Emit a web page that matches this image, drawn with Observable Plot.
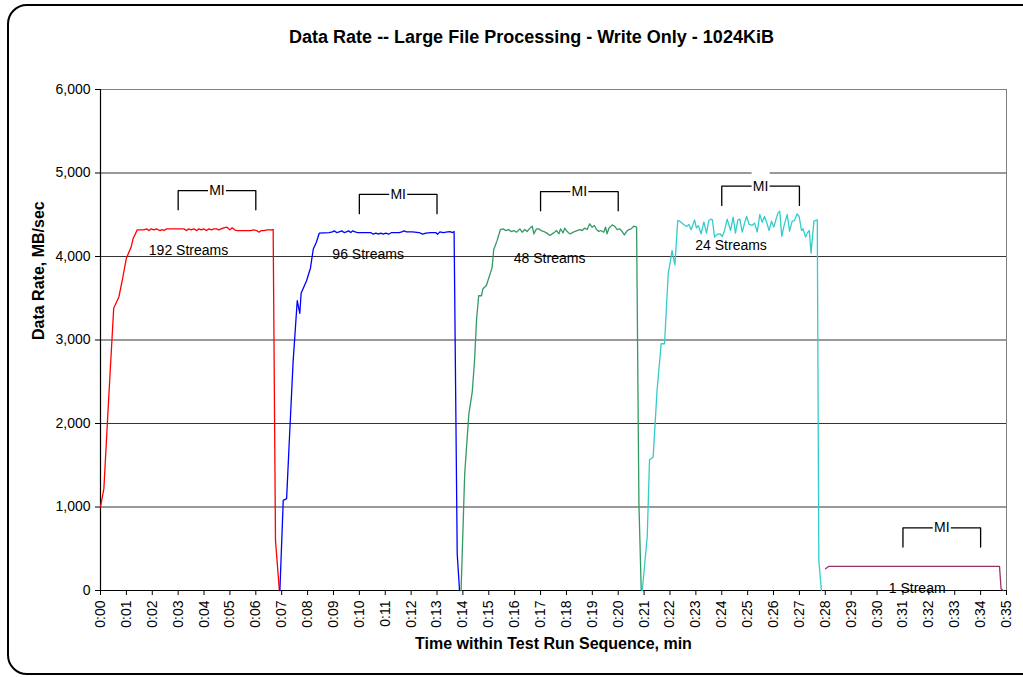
<!DOCTYPE html>
<html>
<head>
<meta charset="utf-8">
<script src="https://cdn.jsdelivr.net/npm/d3@7"></script>
<script src="https://cdn.jsdelivr.net/npm/@observablehq/plot@0.6"></script>
<style>
  html, body { margin: 0; padding: 0; background: #fff; overflow: hidden; }
  #wrap { position: relative; width: 1023px; height: 677px; overflow: hidden; }
  #frame { position: absolute; left: 7px; top: 4px; width: 1040px; height: 671px; box-sizing: border-box;
           border: 2px solid #000; border-radius: 20px; }
  #chart { position: absolute; left: 0; top: 0; }
</style>
</head>
<body>
<div id="wrap"><div id="frame"></div><div id="chart"></div></div>
<script>
// ---- Data (time in minutes, rate in MB/sec) ----
const s192 = [[0,1000],[0.13,1220],[0.32,2320],[0.51,3380],[0.71,3515],[0.84,3715],[1.0,3980],[1.18,4110],[1.26,4215],[1.42,4319],
  [1.67,4319],[1.78,4331],[1.87,4311],[1.96,4331],[2.06,4319],[2.16,4331],[2.29,4311],[2.38,4323],[2.45,4311],[2.55,4331],[2.70,4331],
  [2.96,4331],[3.22,4331],[3.32,4311],[3.41,4331],[3.50,4319],[3.61,4331],[3.71,4311],[3.80,4331],[3.89,4319],[3.99,4331],[4.09,4311],
  [4.19,4331],[4.28,4319],[4.38,4331],[4.48,4331],[4.57,4319],[4.66,4331],[4.76,4343],[4.89,4351],[5.00,4319],[5.09,4343],[5.18,4319],
  [5.28,4311],[5.54,4311],[5.80,4311],[5.92,4319],[6.03,4311],[6.12,4291],[6.21,4311],[6.31,4311],[6.44,4319],[6.57,4319],[6.67,4323],
  [6.76,600],[6.91,0]];
const s96 = [[6.93,0],[7.06,1080],[7.19,1100],[7.28,1700],[7.44,2735],[7.6,3470],[7.7,3320],[7.75,3560],[7.96,3710],[8.11,3860],
  [8.22,4090],[8.34,4170],[8.45,4279],[8.83,4287],[8.96,4295],[9.03,4307],[9.12,4287],[9.22,4295],[9.32,4307],[9.41,4287],[9.50,4295],
  [9.58,4307],[9.67,4287],[9.74,4307],[9.84,4295],[9.93,4287],[10.25,4287],[10.44,4287],[10.53,4267],[10.64,4279],[10.74,4267],
  [10.83,4279],[10.92,4267],[11.02,4279],[11.13,4267],[11.25,4287],[11.54,4287],[11.64,4295],[11.73,4307],[11.82,4295],[12.05,4295],
  [12.31,4287],[12.44,4267],[12.57,4279],[12.76,4287],[12.95,4287],[13.02,4267],[13.11,4295],[13.24,4287],[13.41,4295],[13.50,4299],
  [13.60,4287],[13.66,4299],[13.78,440],[13.87,0]];
const s48 = [[13.93,0],[14.07,1400],[14.23,2115],[14.36,2375],[14.45,2755],[14.53,3255],[14.61,3530],[14.72,3530],[14.77,3610],
  [14.91,3655],[15.13,3870],[15.19,4080],[15.32,4190],[15.45,4323],[15.56,4331],[15.65,4311],[15.77,4323],[15.86,4299],[15.97,4311],
  [16.07,4291],[16.20,4331],[16.29,4291],[16.39,4323],[16.48,4299],[16.59,4339],[16.68,4363],[16.74,4271],[16.84,4331],[16.93,4331],
  [17.02,4311],[17.13,4299],[17.23,4283],[17.36,4251],[17.45,4271],[17.54,4291],[17.62,4311],[17.71,4271],[17.77,4331],[17.87,4283],
  [17.93,4339],[18.03,4299],[18.13,4271],[18.22,4283],[18.31,4299],[18.41,4311],[18.52,4323],[18.61,4311],[18.70,4339],[18.80,4323],
  [18.90,4391],[18.99,4351],[19.08,4371],[19.16,4323],[19.25,4299],[19.32,4311],[19.44,4291],[19.51,4351],[19.57,4271],[19.64,4339],
  [19.77,4379],[19.86,4363],[19.96,4323],[20.06,4331],[20.15,4299],[20.24,4259],[20.32,4299],[20.41,4323],[20.50,4331],[20.60,4363],
  [20.71,4351],[20.8,1040],[20.89,0]];
const s24 = [[20.93,0],[21.12,640],[21.21,1565],[21.35,1600],[21.5,2395],[21.66,2955],[21.79,2955],[21.93,3790],[22.08,4070],[22.19,3900],
  [22.30,4431],[22.38,4423],[22.53,4384],[22.64,4360],[22.73,4384],[22.82,4320],[22.95,4439],[23.02,4344],[23.10,4368],[23.20,4272],
  [23.31,4415],[23.41,4280],[23.50,4431],[23.57,4447],[23.64,4439],[23.72,4232],[23.82,4264],[23.93,4272],[24.02,4240],[24.11,4312],
  [24.21,4447],[24.34,4312],[24.44,4471],[24.53,4280],[24.62,4439],[24.70,4447],[24.79,4292],[24.88,4400],[24.96,4479],[25.06,4384],
  [25.17,4372],[25.27,4400],[25.37,4292],[25.47,4503],[25.56,4411],[25.65,4479],[25.75,4392],[25.83,4312],[25.92,4423],[26.01,4352],
  [26.09,4439],[26.17,4519],[26.24,4543],[26.32,4240],[26.40,4360],[26.53,4503],[26.62,4304],[26.72,4423],[26.81,4431],[26.91,4511],
  [26.99,4479],[27.08,4312],[27.14,4332],[27.24,4232],[27.30,4280],[27.38,4312],[27.45,4040],[27.56,4423],[27.69,4439],[27.75,360],[27.85,0]];
const s1 = [[28.01,260],[28.14,290],[34.73,290],[34.79,20],[34.87,0]];

const seriesColors = ["#ff0000", "#0000ff", "#339966", "#33cccc", "#993366"];

// Measurement-interval brackets
const miStart = [3, 10, 17, 24, 31];
const miEnd   = [6, 13, 20, 27, 34];
const miTop   = [4790, 4743, 4778, 4842, 751];
const miDrop  = 230;
const miBox   = 170;

// Series labels
const labelText = ["192 Streams", "96 Streams", "48 Streams", "24 Streams", "1 Stream"];
const labelT    = [3.40, 10.34, 17.35, 24.36, 31.55];
const labelV    = [4072, 4024, 3972, 4132, 20];

const xTicks = d3.range(0, 36);
const yTicks = d3.range(0, 7000, 1000);

// ---- Build ----
const allSeries = [s192, s96, s48, s24, s1];
const lineMarks = allSeries.map((s, i) =>
  Plot.line(s, {x: d => d[0], y: d => d[1], stroke: seriesColors[i], strokeWidth: 1.3, curve: "linear"}));

const brackets = miStart.flatMap((s, i) => [
  {k: i, x: s, y: miTop[i] - miDrop},
  {k: i, x: s, y: miTop[i]},
  {k: i, x: miEnd[i], y: miTop[i]},
  {k: i, x: miEnd[i], y: miTop[i] - miDrop}
]);
const miLabels = miStart.map((s, i) => ({x: (s + miEnd[i]) / 2, y: miTop[i]}));
const labels = labelText.map((t, i) => ({t, x: labelT[i], y: labelV[i]}));

const font = "'Liberation Sans', Arial, Helvetica, sans-serif";

const chart = Plot.plot({
  width: 1023,
  height: 677,
  marginLeft: 100,
  marginRight: 17,
  marginTop: 89,
  marginBottom: 87,
  style: {fontFamily: font, fontSize: "14px", background: "transparent", overflow: "visible", color: "#000"},
  x: {domain: [0, 35]},
  y: {domain: [0, 6000]},
  marks: [
    Plot.ruleY(yTicks.filter(d => d > 0 && d < 6000), {stroke: "#000", strokeWidth: 1, strokeOpacity: 0.8}),
    Plot.ruleY([6000], {stroke: "#808080", strokeWidth: 1}),
    Plot.ruleX([35], {stroke: "#808080", strokeWidth: 1}),
    Plot.axisY({ticks: yTicks, tickFormat: d3.format(","), tickSize: 5, tickPadding: 5, label: null, fontSize: 14}),
    Plot.axisX({ticks: xTicks, tickFormat: d => "0:" + String(d).padStart(2, "0"), tickRotate: -90,
                tickSize: 5, tickPadding: 5, label: null, fontSize: 14}),
    Plot.ruleX([0], {stroke: "#000", strokeWidth: 1.2}),
    Plot.ruleY([0], {x1: 0, x2: 35, stroke: "#000", strokeWidth: 1.2}),
    ...lineMarks,
    Plot.line(brackets, {x: "x", y: "y", z: "k", stroke: "#000", strokeWidth: 1.3}),
    Plot.ruleX(miLabels, {x: "x", y1: d => d.y - miBox, y2: d => d.y + miBox, stroke: "#fff", strokeWidth: 18}),
    Plot.text(miLabels, {x: "x", y: "y", text: () => "MI", fontSize: 14, fill: "#000"}),
    Plot.text(labels, {x: "x", y: "y", text: "t", fontSize: 14, fill: "#000"}),
    Plot.text(["Data Rate -- Large File Processing - Write Only - 1024KiB"],
      {frameAnchor: "top", dx: -22, dy: -59, fontSize: 18, fontWeight: "bold", fill: "#000"}),
    Plot.text(["Data Rate, MB/sec"],
      {frameAnchor: "left", dx: -62, rotate: -90, fontSize: 16, fontWeight: "bold", fill: "#000"}),
    Plot.text(["Time within Test Run Sequence, min"],
      {frameAnchor: "bottom", dy: 58, fontSize: 16, fontWeight: "bold", fill: "#000"})
  ]
});
document.getElementById("chart").appendChild(chart);
</script>
</body>
</html>
